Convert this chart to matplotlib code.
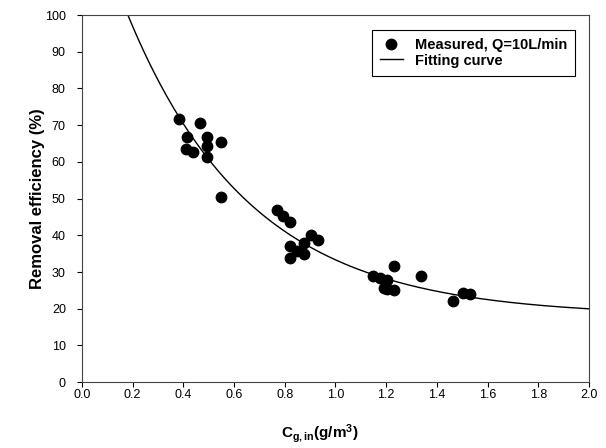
import numpy as np
import matplotlib.pyplot as plt
plt.switch_backend('agg')

plt.rcParams['font.family'] = ['Liberation Sans', 'DejaVu Sans']
plt.rcParams['mathtext.fontset'] = 'custom'
plt.rcParams['mathtext.rm'] = 'Liberation Sans'
plt.rcParams['mathtext.bf'] = 'Liberation Sans:bold'

# measured points
c_in = [0.384, 0.465, 0.413, 0.494, 0.548, 0.494, 0.41, 0.439, 0.494, 0.547,
        0.768, 0.795, 0.822, 0.903, 0.932, 0.876, 0.822, 0.847, 0.876, 0.822,
        1.149, 1.176, 1.204, 1.232, 1.19, 1.204, 1.231, 1.337, 1.465, 1.504, 1.532]
removal = [71.6, 70.7, 66.8, 66.8, 65.3, 64.3, 63.5, 62.6, 61.2, 50.3,
           46.8, 45.2, 43.6, 40.0, 38.7, 38.0, 37.1, 35.8, 34.9, 33.7,
           29.0, 28.5, 27.8, 31.5, 25.7, 25.3, 25.0, 29.0, 22.1, 24.2, 23.9]

# fitting curve y = a + b*exp(-k*x)
fit_a, fit_b, fit_k = 18.0, 119.0, 2.05

x_ticks = [0.0, 0.2, 0.4, 0.6, 0.8, 1.0, 1.2, 1.4, 1.6, 1.8, 2.0]
y_ticks = [0, 10, 20, 30, 40, 50, 60, 70, 80, 90, 100]

fig = plt.figure(figsize=(6.06, 4.48), dpi=100)
ax = fig.add_axes([0.135, 0.147, 0.837, 0.8195])

xx = np.linspace(0.1, 2.0, 300)
ax.plot(c_in, removal, 'o', color='black', markersize=7.5, label='Measured, Q=10L/min')
ax.plot(xx, fit_a + fit_b * np.exp(-fit_k * xx), '-', color='black', lw=1.0, label='Fitting curve')

ax.set_xlim(0, 2.0)
ax.set_ylim(0, 100)
ax.set_xticks(x_ticks)
ax.set_xticklabels(['%.1f' % v for v in x_ticks])
ax.set_yticks(y_ticks)
ax.tick_params(direction='out', length=3.5, width=0.8, labelsize=9)
ax.tick_params(axis='x', pad=1.5)
ax.tick_params(axis='y', pad=8)
for s in ax.spines.values():
    s.set_linewidth(0.8)
    s.set_color('#444444')

ax.set_ylabel('Removal efficiency (%)', fontsize=12, fontweight='bold', labelpad=0)
ax.set_xlabel(r'$\mathbf{C_{g,in}(g/m^3)}$', fontsize=11)
ax.xaxis.set_label_coords(0.47, -0.11)

leg = ax.legend(loc='upper right', bbox_to_anchor=(0.972, 0.959), borderaxespad=0,
                fancybox=False, edgecolor='black', framealpha=1,
                prop={'weight': 'bold', 'size': 10.5},
                handlelength=1.6, handletextpad=0.8, borderpad=0.55, labelspacing=0.1)
leg.get_frame().set_linewidth(0.8)

plt.savefig('out.png', dpi=100)
plt.close()
